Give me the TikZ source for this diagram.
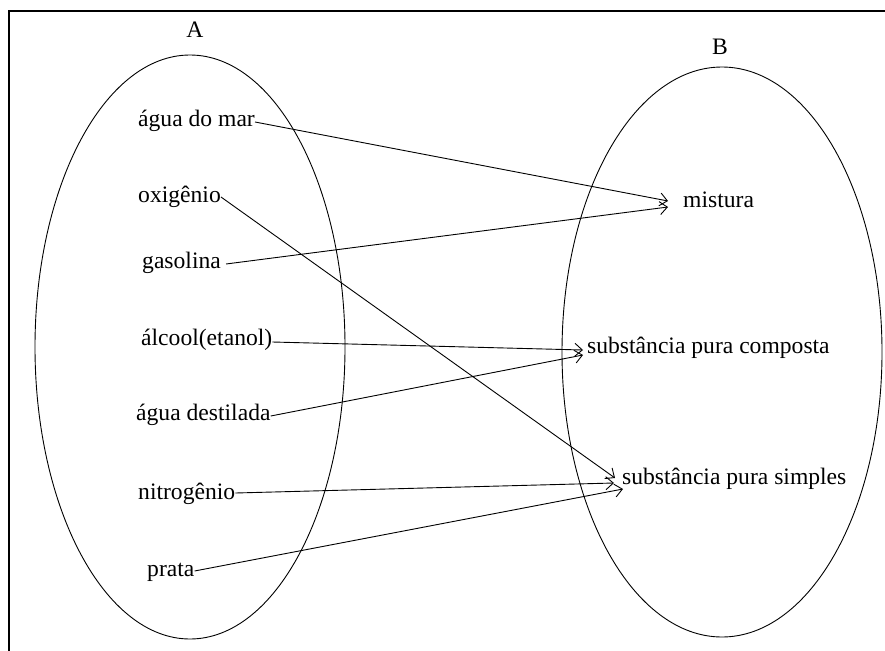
\documentclass[tikz,border=0pt]{standalone}
\usepackage{fontspec}
\setmainfont{Liberation Serif}
\usetikzlibrary{arrows.meta}
\begin{document}
\begin{tikzpicture}[x=1pt,y=-1pt,
  lbl/.style={font=\fontsize{23.6}{27}\selectfont, inner sep=0pt, anchor=west},
  ttl/.style={font=\fontsize{23.6}{27}\selectfont, inner sep=0pt},
  setline/.style={line width=0.9pt},
  conn/.style={line width=0.9pt, -{Straight Barb[length=7.5pt,width=13pt]}}]
\useasboundingbox (0,0) rectangle (885,650);
% frame
\draw[line width=2.8pt] (9,651) -- (9,11) -- (886,11);
% sets
\draw[setline] (190,347) ellipse [x radius=155pt, y radius=292pt];
\draw[setline] (722,352) ellipse [x radius=160pt, y radius=285pt];
\node[ttl] (A) at (195,30) {A};
\node[ttl] (B) at (720,47) {B};
% left items
\node[lbl] (amar) at (138,121) {água do mar};
\node[lbl] (oxig) at (138,197) {oxigênio};
\node[lbl] (gaso) at (142,263) {gasolina};
\node[lbl] (alco) at (141,340) {álcool(etanol)};
\node[lbl] (dest) at (136,415) {água destilada};
\node[lbl] (nitr) at (138,494) {nitrogênio};
\node[lbl] (prat) at (147,572) {prata};
% right items
\node[lbl] (mist) at (683,200) {mistura};
\node[lbl] (comp) at (587,348) {substância pura composta};
\node[lbl] (simp) at (622,479) {substância pura simples};
% connectors
\draw[conn] ([yshift=-1pt]amar.east) -- ([xshift=-15pt,yshift=-1pt]mist.west);
\draw[conn] (oxig.east) -- ([xshift=-7pt,yshift=1pt]simp.west);
\draw[conn] ([xshift=5pt,yshift=-1pt]gaso.east) -- ([xshift=-15pt,yshift=-7pt]mist.west);
\draw[conn] ([yshift=-2pt]alco.east) -- ([xshift=-4pt,yshift=-2pt]comp.west);
\draw[conn] ([yshift=-1pt]dest.east) -- ([xshift=-4pt,yshift=-7pt]comp.west);
\draw[conn] ([yshift=1pt]nitr.east) -- ([xshift=-8pt,yshift=-4pt]simp.west);
\draw[conn] ([yshift=1pt]prat.east) -- ([xshift=1pt,yshift=-10pt]simp.west);
\end{tikzpicture}
\end{document}
